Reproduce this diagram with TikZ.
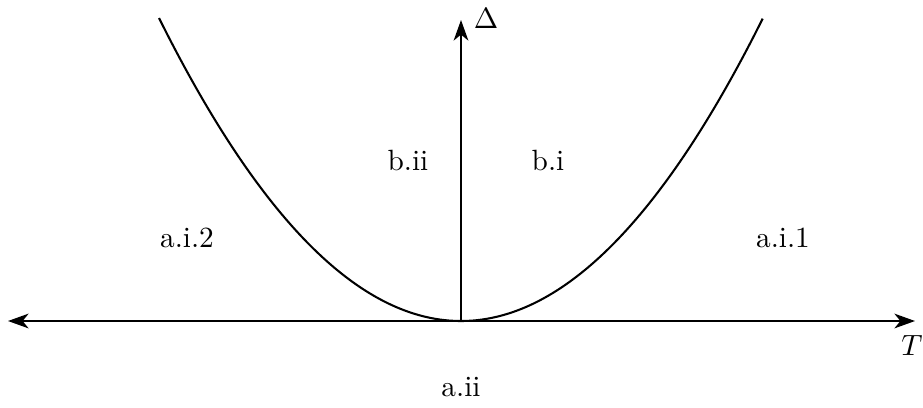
\documentclass[tikz,border=0pt]{standalone}
\usetikzlibrary{arrows.meta}
\begin{document}
\begin{tikzpicture}[x=0.3413pt,y=-0.3413pt,
  axis/.style={line width=0.7pt,-{Stealth[length=7pt,width=5pt,inset=2pt]}},
  curve/.style={line width=0.7pt},
  lab/.style={inner sep=0pt}]
\useasboundingbox (0,0) rectangle (923,407);
\coordinate (O) at (461,321);
\coordinate (L) at (8,321);
\coordinate (R) at (915,321);
\coordinate (U) at (461,20);
\draw[axis] (O) -- (L);
\draw[axis] (O) -- (R);
\draw[axis] (O) -- (U);
\draw[curve] plot[domain=-1:1,samples=101,smooth] ({461+302*\x},{321-303*\x*\x});
\node[lab] (delta) at (486,18) {$\Delta$};
\node[lab] (T) at (912,345) {$T$};
\node[lab] (ai2) at (187,238) {a.i.2};
\node[lab] (bii) at (408,160) {b.ii};
\node[lab] (bi) at (548,160) {b.i};
\node[lab] (ai1) at (783,238) {a.i.1};
\node[lab] (aii) at (461,387) {a.ii};
\end{tikzpicture}
\end{document}
